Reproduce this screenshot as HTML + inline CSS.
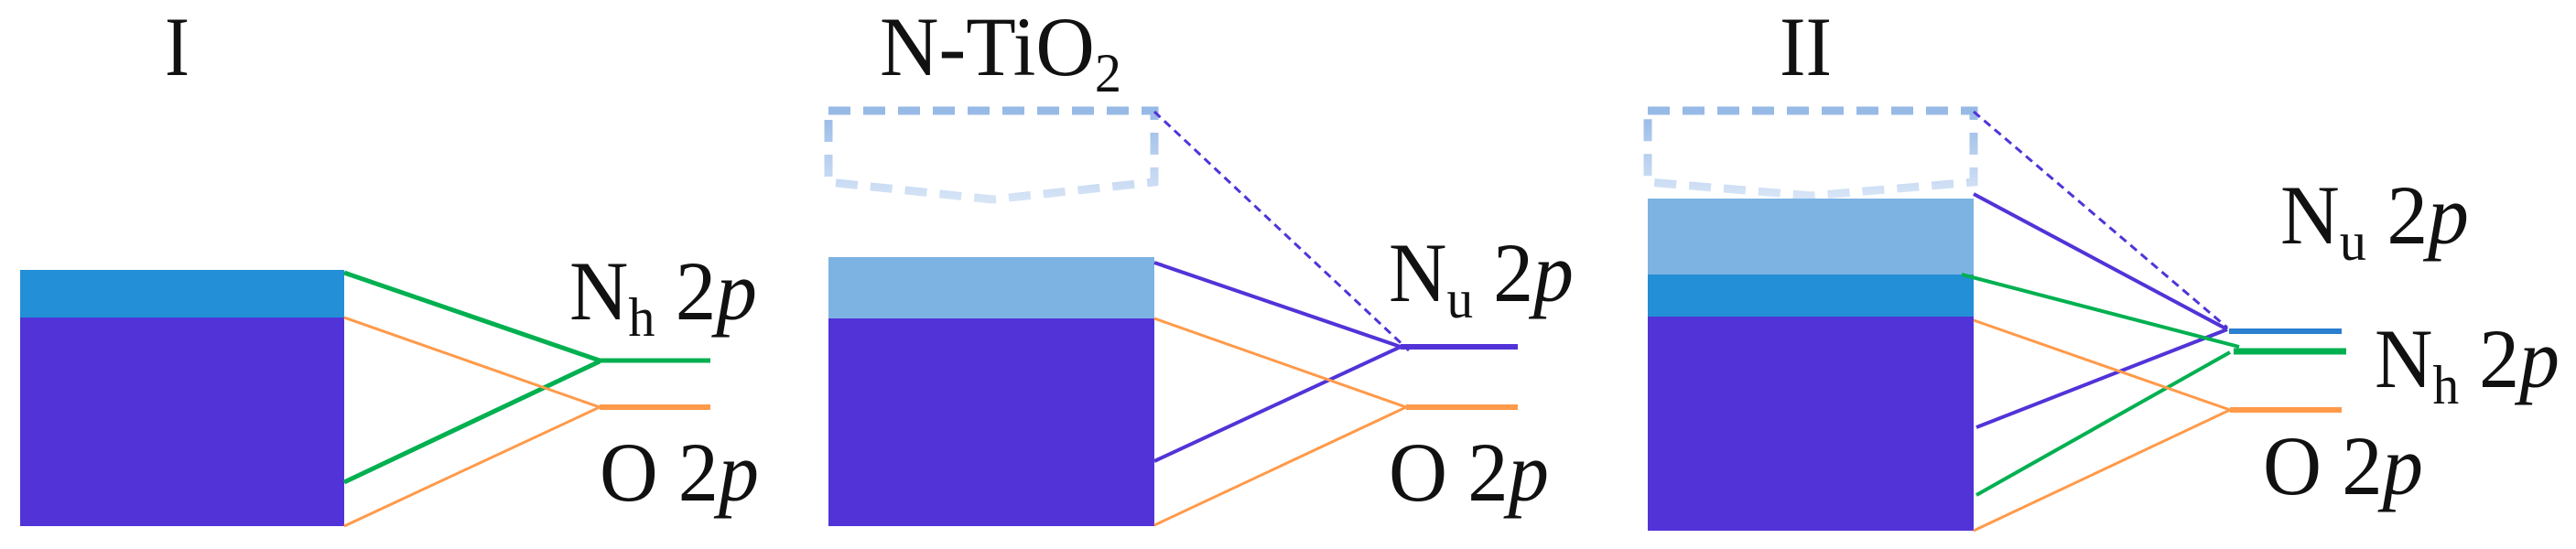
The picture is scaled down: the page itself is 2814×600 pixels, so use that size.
<!DOCTYPE html>
<html><head><meta charset="utf-8"><style>
html,body{margin:0;padding:0;background:#fff;}
svg{display:block;}
text{font-family:"Liberation Serif","Times New Roman",serif;fill:#111;}
</style></head><body>
<svg width="2814" height="600" viewBox="0 0 2814 600" xmlns="http://www.w3.org/2000/svg">
<defs>
<linearGradient id="dg" x1="0" y1="0" x2="0" y2="1">
<stop offset="0" stop-color="#96b9e6"/><stop offset="1" stop-color="#d6e4f6"/>
</linearGradient>
</defs>
<!-- Panel I -->
<text x="180" y="82" font-size="92" font-family="Liberation Serif" textLength="27" lengthAdjust="spacingAndGlyphs">I</text>
<rect x="22" y="295" width="354" height="52" fill="#228fd6"/>
<rect x="22" y="347" width="354" height="228" fill="#5233d8"/>
<g fill="none" stroke-linecap="butt">
<polyline points="376,298 655,394 776,394" stroke="#00b050" stroke-width="5"/>
<line x1="376" y1="527" x2="655" y2="395" stroke="#00b050" stroke-width="5"/>
<polyline points="376,347 655,445 376,575" stroke="#ff9a4a" stroke-width="3"/>
<line x1="655" y1="445" x2="776" y2="445" stroke="#ff9a4a" stroke-width="6"/>
</g>
<text x="622" y="349" font-size="92" font-family="Liberation Serif" textLength="205" lengthAdjust="spacingAndGlyphs">N<tspan font-size="60" dy="18">h</tspan><tspan dy="-18"> 2</tspan><tspan font-style="italic">p</tspan></text>
<text x="655" y="547" font-size="92" font-family="Liberation Serif" textLength="174" lengthAdjust="spacingAndGlyphs">O 2<tspan font-style="italic">p</tspan></text>

<!-- Panel N-TiO2 -->
<text x="961" y="82" font-size="92" font-family="Liberation Serif" textLength="264" lengthAdjust="spacingAndGlyphs">N-TiO<tspan font-size="60" dy="18">2</tspan></text>
<path d="M905,121 L1261,121 L1261,199 L1084,218 L905,199 Z" fill="none" stroke="url(#dg)" stroke-width="9" stroke-dasharray="24,14"/>
<rect x="905" y="281" width="356" height="67" fill="#7db3e3"/>
<rect x="905" y="348" width="356" height="227" fill="#5233d8"/>
<g fill="none">
<line x1="1261" y1="122" x2="1539" y2="383" stroke="#5233d8" stroke-width="3" stroke-dasharray="9,6"/>
<polyline points="1261,287 1530,379" stroke="#5233d8" stroke-width="4"/>
<line x1="1261" y1="504" x2="1530" y2="379" stroke="#5233d8" stroke-width="4"/>
<line x1="1530" y1="379" x2="1658" y2="379" stroke="#5233d8" stroke-width="6"/>
<polyline points="1261,348 1536,445 1261,574" stroke="#ff9a4a" stroke-width="3"/>
<line x1="1536" y1="445" x2="1658" y2="445" stroke="#ff9a4a" stroke-width="6"/>
</g>
<text x="1517" y="329" font-size="92" font-family="Liberation Serif" textLength="202" lengthAdjust="spacingAndGlyphs">N<tspan font-size="60" dy="18">u</tspan><tspan dy="-18"> 2</tspan><tspan font-style="italic">p</tspan></text>
<text x="1517" y="547" font-size="92" font-family="Liberation Serif" textLength="175" lengthAdjust="spacingAndGlyphs">O 2<tspan font-style="italic">p</tspan></text>

<!-- Panel II -->
<text x="1944" y="82" font-size="92" font-family="Liberation Serif" textLength="57" lengthAdjust="spacingAndGlyphs">II</text>
<path d="M1800,121 L2156,121 L2156,199 L1978,214 L1800,199 Z" fill="none" stroke="url(#dg)" stroke-width="9" stroke-dasharray="24,14"/>
<rect x="1800" y="217" width="356" height="83" fill="#7db3e3"/>
<rect x="1800" y="300" width="356" height="46" fill="#228fd6"/>
<rect x="1800" y="346" width="356" height="234" fill="#5233d8"/>
<g fill="none">
<line x1="2156" y1="122" x2="2433" y2="358" stroke="#5233d8" stroke-width="3" stroke-dasharray="9,6"/>
<line x1="2156" y1="212" x2="2433" y2="360" stroke="#5233d8" stroke-width="4"/>
<line x1="2159" y1="467" x2="2433" y2="360" stroke="#5233d8" stroke-width="4"/>
<line x1="2435" y1="362" x2="2558" y2="362" stroke="#2a7fd0" stroke-width="6"/>
<line x1="2143" y1="300" x2="2446" y2="379" stroke="#00b050" stroke-width="4"/>
<line x1="2159" y1="541" x2="2436" y2="385" stroke="#00b050" stroke-width="4"/>
<line x1="2440" y1="384" x2="2563" y2="384" stroke="#00b050" stroke-width="7"/>
<polyline points="2156,350 2436,448 2156,580" stroke="#ff9a4a" stroke-width="3"/>
<line x1="2436" y1="448" x2="2558" y2="448" stroke="#ff9a4a" stroke-width="6"/>
</g>
<text x="2491" y="266" font-size="92" font-family="Liberation Serif" textLength="206" lengthAdjust="spacingAndGlyphs">N<tspan font-size="60" dy="18">u</tspan><tspan dy="-18"> 2</tspan><tspan font-style="italic">p</tspan></text>
<text x="2594" y="423" font-size="92" font-family="Liberation Serif" textLength="202" lengthAdjust="spacingAndGlyphs">N<tspan font-size="60" dy="18">h</tspan><tspan dy="-18"> 2</tspan><tspan font-style="italic">p</tspan></text>
<text x="2472" y="540" font-size="92" font-family="Liberation Serif" textLength="175" lengthAdjust="spacingAndGlyphs">O 2<tspan font-style="italic">p</tspan></text>
</svg>
</body></html>
